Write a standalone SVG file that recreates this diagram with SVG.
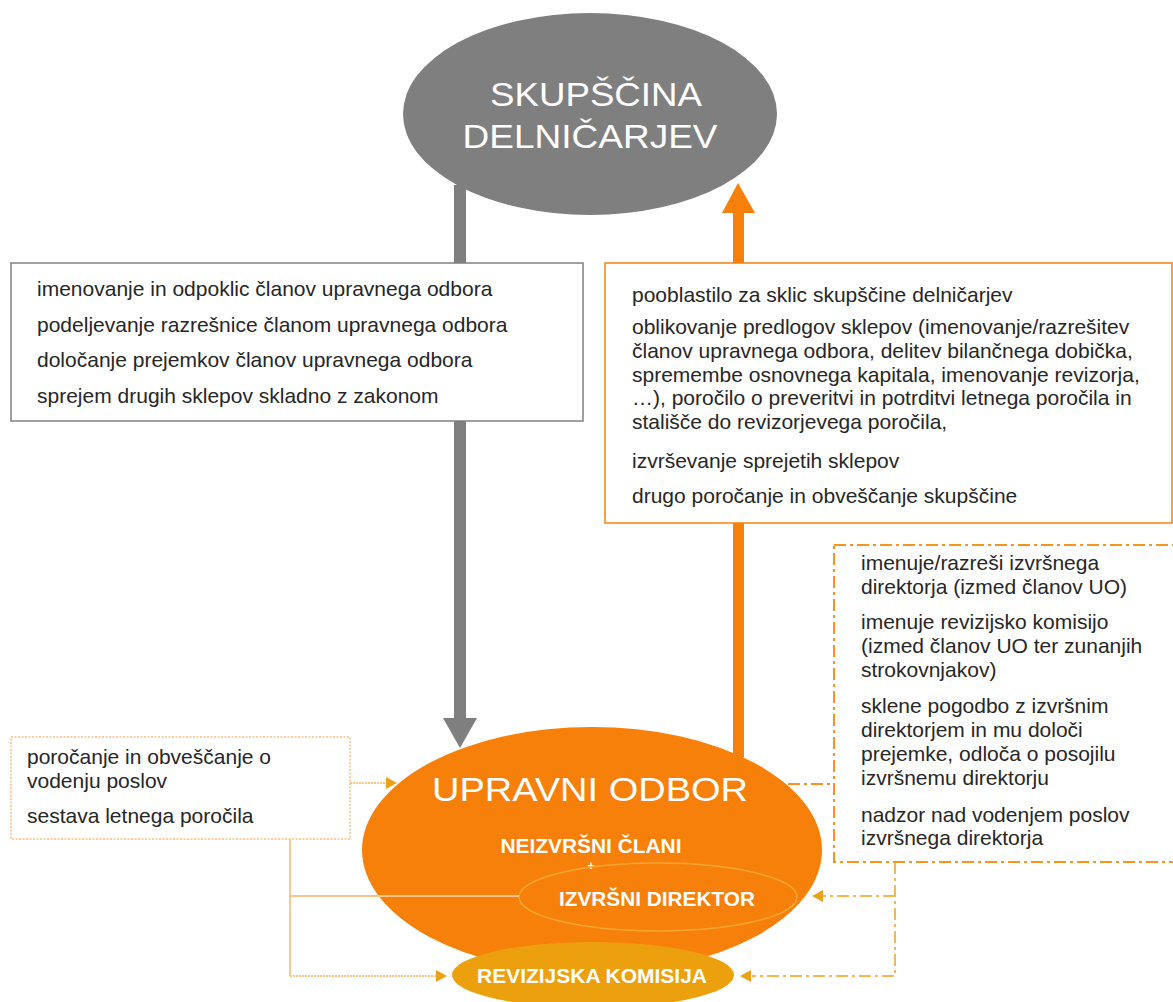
<svg xmlns="http://www.w3.org/2000/svg" width="1173" height="1002" viewBox="0 0 1173 1002">
<style>
.t{font-family:"Liberation Sans",Arial,sans-serif;font-size:21px;fill:#262626}
.big{font-family:"Liberation Sans",Arial,sans-serif;font-size:33px;fill:#ffffff}
.bold{font-family:"Liberation Sans",Arial,sans-serif;font-size:20px;font-weight:bold;fill:#ffffff}
.dashdot{fill:none;stroke:#f7931e;stroke-width:2;stroke-dasharray:12 4 3 4}
.conn-dd{fill:none;stroke:#f5b752;stroke-width:2;stroke-dasharray:12 4 3 4}
.conn-dot{fill:none;stroke:#f9c488;stroke-width:1.8;stroke-dasharray:2 1}
.conn-solid{fill:none;stroke:#f9c488;stroke-width:1.8}
.head{fill:#eca214}
</style>
<rect width="1173" height="1002" fill="#ffffff"/>

<g id="skupscina">
<ellipse cx="590" cy="114" rx="187" ry="101" fill="#7f7f7f"/>
<text class="big" x="596" y="106" text-anchor="middle" textLength="212" lengthAdjust="spacingAndGlyphs">SKUPŠČINA</text>
<text class="big" x="590" y="148" text-anchor="middle" textLength="255" lengthAdjust="spacingAndGlyphs">DELNIČARJEV</text>
</g>

<g id="upravni-odbor">
<ellipse cx="592" cy="850" rx="230" ry="123" fill="#f7800b"/>
<text class="big" x="590" y="801" text-anchor="middle" textLength="316" lengthAdjust="spacingAndGlyphs">UPRAVNI  ODBOR</text>
<text class="bold" x="591" y="853" text-anchor="middle" textLength="181" lengthAdjust="spacingAndGlyphs">NEIZVRŠNI ČLANI</text>
<text class="bold" x="591" y="870" text-anchor="middle" style="font-size:12px">+</text>
</g>

<g id="izvrsni-direktor">
<ellipse cx="658" cy="897" rx="139" ry="34" fill="none" stroke="#f2a632" stroke-width="1.5"/>
<text class="bold" x="657" y="906" text-anchor="middle" textLength="196" lengthAdjust="spacingAndGlyphs">IZVRŠNI DIREKTOR</text>
</g>

<g id="revizijska-komisija">
<ellipse cx="593" cy="975" rx="141" ry="33" fill="#eda00e"/>
<text class="bold" x="592" y="983" text-anchor="middle" textLength="230" lengthAdjust="spacingAndGlyphs">REVIZIJSKA KOMISIJA</text>
</g>

<g id="connectors">
<!-- gray: skupscina -> upravni odbor -->
<rect x="454" y="185" width="12" height="534" fill="#7f7f7f"/>
<polygon points="443,718 477,718 460,748" fill="#7f7f7f"/>
<!-- orange: upravni odbor -> skupscina -->
<rect x="733" y="212" width="11" height="545" fill="#f7800b"/>
<polygon points="722,213 755,213 738,183" fill="#f7800b"/>
<!-- left box connectors -->
<line class="conn-dot" x1="350" y1="783" x2="386" y2="783"/>
<polygon class="head" points="386,777 397,783 386,789"/>
<line class="conn-solid" x1="290" y1="839" x2="290" y2="976"/>
<line class="conn-solid" x1="290" y1="896" x2="519" y2="896"/>
<line class="conn-dot" x1="290" y1="976" x2="436" y2="976"/>
<polygon class="head" points="436,970 447,976 436,982"/>
<!-- right dashed box connectors -->
<line class="dashdot" x1="788" y1="784" x2="834" y2="784"/>
<path class="conn-dd" d="M895,862 V976 H752"/>
<path class="conn-dd" d="M895,896 H823"/>
<polygon class="head" points="823,890 812,896 823,902"/>
<polygon class="head" points="751,970 740,976 751,982"/>
</g>

<g id="box-skupscina-pristojnosti">
<rect x="11" y="263" width="572" height="158" fill="#ffffff" stroke="#7f7f7f" stroke-width="1.5"/>
<text class="t" x="37" y="296">imenovanje in odpoklic članov upravnega odbora</text>
<text class="t" x="37" y="332">podeljevanje razrešnice članom upravnega odbora</text>
<text class="t" x="37" y="367">določanje prejemkov članov upravnega odbora</text>
<text class="t" x="37" y="403">sprejem drugih sklepov skladno z zakonom</text>
</g>

<g id="box-upravni-odbor-pristojnosti">
<rect x="605" y="263" width="567" height="260" fill="#ffffff" stroke="#f7800b" stroke-width="1.5"/>
<text class="t" x="632" y="302">pooblastilo za sklic skupščine delničarjev</text>
<text class="t" x="632" y="334">oblikovanje predlogov sklepov (imenovanje/razrešitev</text>
<text class="t" x="632" y="358">članov upravnega odbora, delitev bilančnega dobička,</text>
<text class="t" x="632" y="382">spremembe osnovnega kapitala, imenovanje revizorja,</text>
<text class="t" x="632" y="405">…), poročilo o preveritvi in potrditvi letnega poročila in</text>
<text class="t" x="632" y="429">stališče do revizorjevega poročila,</text>
<text class="t" x="632" y="468">izvrševanje sprejetih sklepov</text>
<text class="t" x="632" y="503">drugo poročanje in obveščanje skupščine</text>
</g>

<g id="box-nadzor">
<rect class="dashdot" x="834" y="545" width="360" height="317" fill="#ffffff"/>
<text class="t" x="861" y="570">imenuje/razreši izvršnega</text>
<text class="t" x="861" y="594">direktorja (izmed članov UO)</text>
<text class="t" x="861" y="629">imenuje revizijsko komisijo</text>
<text class="t" x="861" y="653">(izmed članov UO ter zunanjih</text>
<text class="t" x="861" y="677">strokovnjakov)</text>
<text class="t" x="861" y="713">sklene pogodbo z izvršnim</text>
<text class="t" x="861" y="737">direktorjem in mu določi</text>
<text class="t" x="861" y="761">prejemke, odloča o posojilu</text>
<text class="t" x="861" y="785">izvršnemu direktorju</text>
<text class="t" x="861" y="822">nadzor nad vodenjem poslov</text>
<text class="t" x="861" y="845">izvršnega direktorja</text>
</g>

<g id="box-izvrsni-direktor">
<rect x="11" y="737" width="339" height="102" fill="#ffffff" stroke="#fbbf80" stroke-width="1.5" stroke-dasharray="2 1.5"/>
<text class="t" x="27" y="764">poročanje in obveščanje o</text>
<text class="t" x="27" y="788">vodenju poslov</text>
<text class="t" x="27" y="823">sestava letnega poročila</text>
</g>
</svg>
